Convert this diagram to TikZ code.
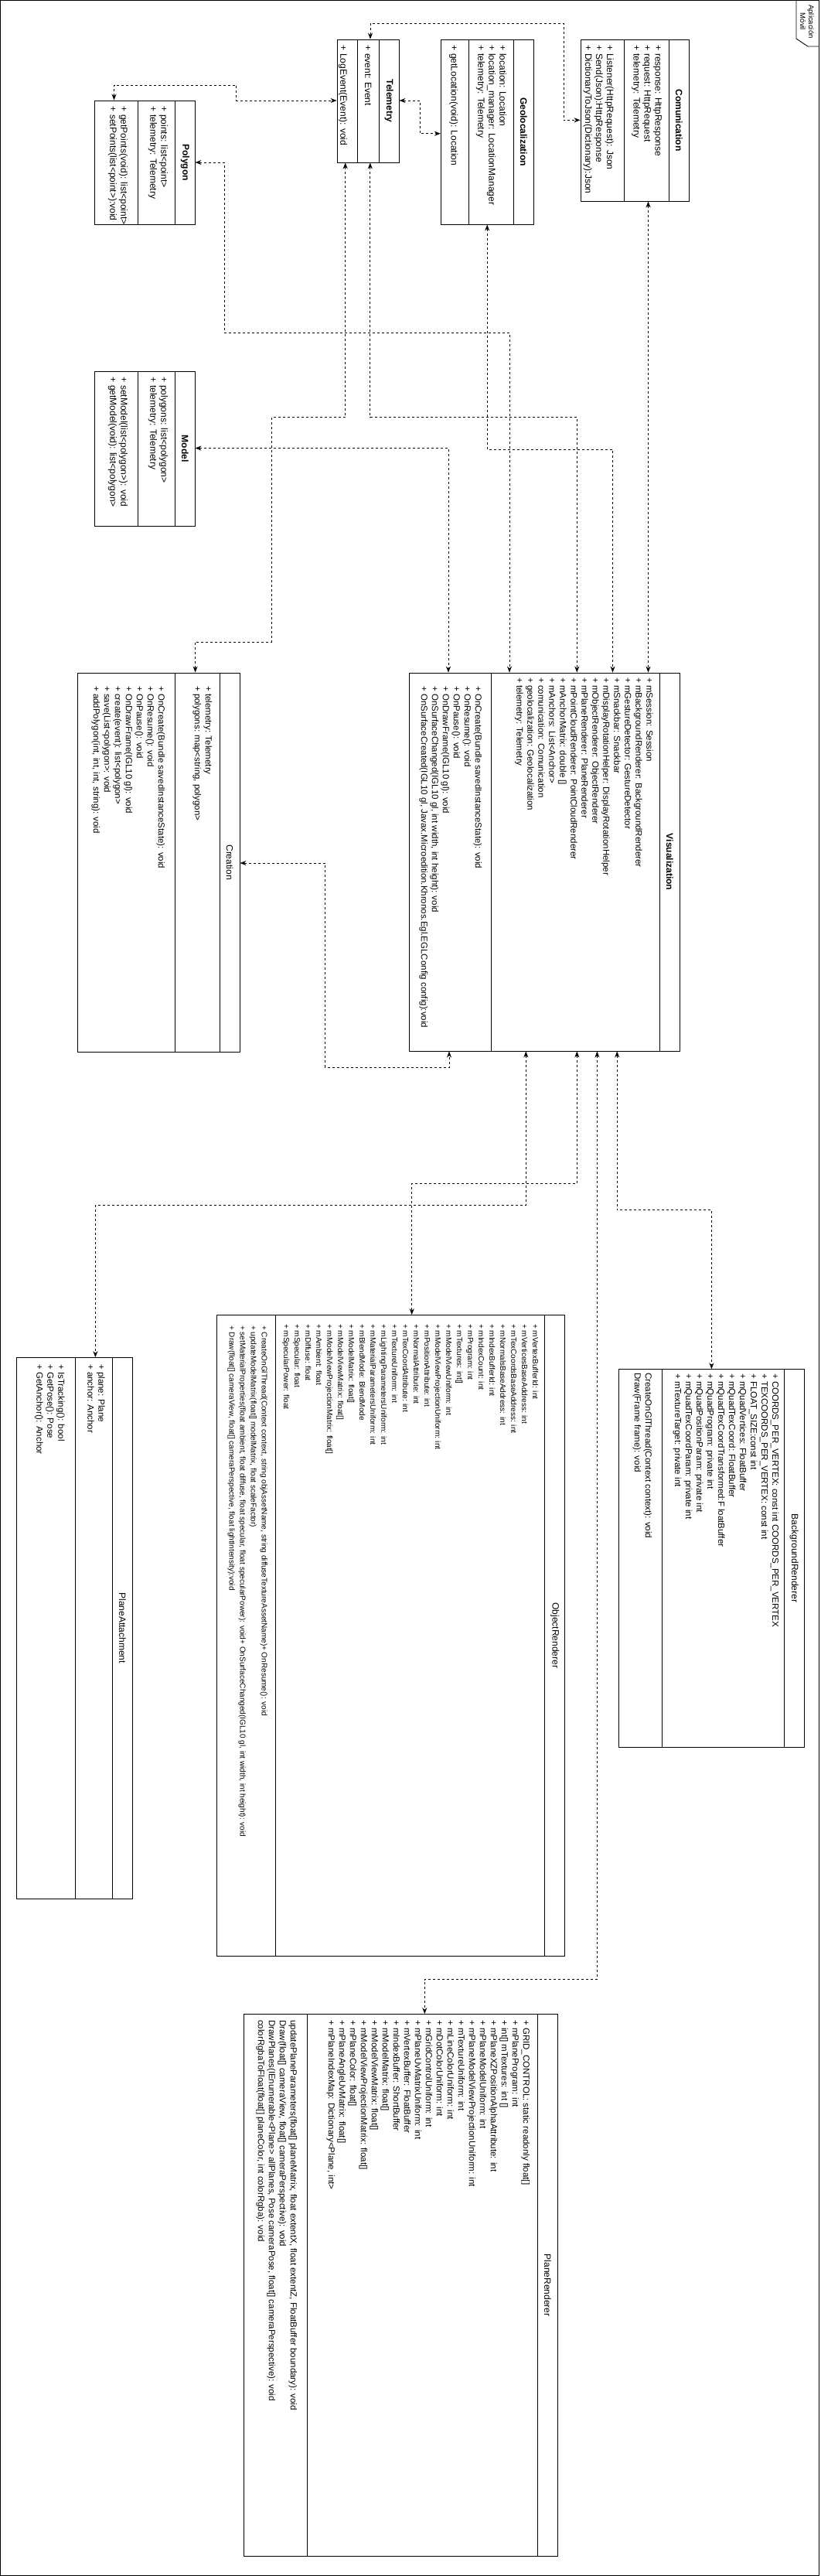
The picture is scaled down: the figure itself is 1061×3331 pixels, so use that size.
\documentclass[tikz,border=0pt]{standalone}
\usepackage{fontspec}
\setmainfont{Liberation Sans}
\usetikzlibrary{arrows.meta,fit}

\begin{document}
\begin{tikzpicture}[x=1pt,y=-1pt,
  classbox/.style={draw, line width=0.9pt, inner sep=0pt},
  divider/.style={line width=0.9pt},
  ctitle/.style={rotate=-90, inner sep=0pt, font=\fontsize{12}{14}\selectfont\bfseries},
  ltitle/.style={rotate=-90, inner sep=0pt, font=\fontsize{12}{14}\selectfont},
  members/.style={rotate=-90, anchor=north west, align=left, inner sep=0pt, font=\fontsize{12}{14}\selectfont},
  lmembers/.style={members, font=\fontsize{11.5}{14}\selectfont},
  smembers/.style={members, font=\fontsize{10}{14}\selectfont},
  link/.style={line width=0.8pt, dash pattern=on 3pt off 3pt,
    {Stealth[length=8pt,width=6pt]}-{Stealth[length=8pt,width=6pt]}}]
\useasboundingbox (0,0) rectangle (1061,3331);
\draw[line width=0.9pt] (0.5,0.5) rectangle (1059.5,3330.5);
\draw[line width=0.9pt] (1030,0.5) -- (1030,50) -- (1045,60) -- (1059.5,60);
\node[rotate=-90, align=center, inner sep=0pt, font=\fontsize{9.5}{11}\selectfont] (appname) at (1044,28) {Aplicación\\Móvil};

\node[classbox, fit={(122,130) (252,290)}] (poly) {};
\draw[divider] (178.3,130) -- (178.3,290);
\draw[divider] (226.7,130) -- (226.7,290);
\node[ctitle] (polyname) at (239.5,210) {Polygon};
\node[members] (polyattr) at (217.3,137.6) {+ points: list<point>\\+ telemetry: Telemetry};
\node[members] (polyops) at (165.3,137.6) {+ getPoints(void): list<point>\\+ setPoints(list<point>):void};

\node[classbox, fit={(122,480) (252,680)}] (model) {};
\draw[divider] (178.3,480) -- (178.3,680);
\draw[divider] (226.7,480) -- (226.7,680);
\node[ctitle] (modelname) at (239.5,580) {Model};
\node[members] (modelattr) at (217.3,487.6) {+ polygons: list<polygon>\\+ telemetry: Telemetry};
\node[members] (modelops) at (165.3,487.6) {+ setModel(list<polygon>): void\\+ getModel(void): list<polygon>};

\node[classbox, fit={(436,51) (516,210)}] (tel) {};
\draw[divider] (462.3,51) -- (462.3,210);
\draw[divider] (490,51) -- (490,210);
\node[ctitle] (telname) at (503.2,130.5) {Telemetry};
\node[members] (telattr) at (480.6,58.6) {+ event: Event};
\node[members] (telops) at (449.3,58.6) {+ LogEvent(Event): void};

\node[classbox, fit={(570.3,51) (690.3,290)}] (geo) {};
\draw[divider] (606.3,51) -- (606.3,290);
\draw[divider] (664.7,51) -- (664.7,290);
\node[ctitle] (geoname) at (677.5,170.5) {Geolocalization};
\node[members] (geoattr) at (655.3,58.6) {+ location: Location\\+ location\_manager: LocationManager\\+ telemetry: Telemetry};
\node[members] (geoops) at (592.6,58.6) {+ getLocation(void): Location};

\node[classbox, fit={(751,51) (891.3,260)}] (com) {};
\draw[divider] (807.3,51) -- (807.3,260);
\draw[divider] (865.3,51) -- (865.3,260);
\node[ctitle] (comname) at (878.3,155.5) {Comunication};
\node[members] (comattr) at (856,58.6) {+ response: HttpResponse\\+ request: HttpRequest\\+ telemetry: Telemetry};
\node[members] (comops) at (794,58.6) {+ Listener(HttpRequest): Json\\+ Send(Json):HttpResponse\\+ DictionaryToJson(Dictionary):Json};

\node[classbox, fit={(100.7,870) (310,1360)}] (creation) {};
\draw[divider] (226.7,870) -- (226.7,1360);
\draw[divider] (284.3,870) -- (284.3,1360);
\node[ltitle] (creationname) at (297.2,1115) {Creation};
\node[lmembers] (creationattr) at (274.3,887) {+ telemetry: Telemetry\\+ polygons: map<string, polygon>};
\node[lmembers] (creationops) at (213.3,887) {+ OnCreate(Bundle savedInstanceState): void\\+ OnResume(): void\\+ OnPause(): void\\+ OnDrawFrame(IGL10 gl): void\\+ create(event): list<polygon>\\+ save(List<polygon>: void\\+ addPolygon(int, int, int, string): void};

\node[classbox, fit={(529.3,870) (879.5,1359)}] (vis) {};
\draw[divider] (635.5,870) -- (635.5,1359);
\draw[divider] (853.5,870) -- (853.5,1359);
\node[ctitle] (visname) at (866.5,1114.5) {Visualization};
\node[lmembers] (visattr) at (845,876) {+ mSession: Session\\+ mBackgroundRenderer: BackgroundRenderer\\+ mGestureDetector: GestureDetector\\+ mSnackbar: Snackbar\\+ mDisplayRotationHelper: DisplayRotationHelper\\+ mObjectRenderer: ObjectRenderer\\+ mPlaneRenderer: PlaneRenderer\\+ mPointCloudRenderer: PointCloudRenderer\\+ mAnchorMatrix: double []\\+ mAnchors: List<Anchor>\\+ comunication: Comunication\\+ geolocalization: Geolocalization\\+ telemetry: Telemetry};
\node[lmembers] (visops) at (623.5,887) {+ OnCreate(Bundle savedInstanceState): void\\+ OnResume(): void\\+ OnPause(): void\\+ OnDrawFrame(IGL10 gl): void\\+ OnSurfaceChanged(IGL10 gl, int width, int height): void\\+ OnSurfaceCreated(IGL10 gl, Javax.Microedition.Khronos.Egl.EGLConfig config):void};

\node[classbox, fit={(280.7,1700.5) (730.8,2529)}] (objr) {};
\draw[divider] (356,1700.5) -- (356,2529);
\draw[divider] (704.6,1700.5) -- (704.6,2529);
\node[ltitle] (objrname) at (717.7,2114.8) {ObjectRenderer};
\node[smembers] (objrattr) at (696.6,1712) {+ mVertexBufferId: int\\+ mVerticesBaseAddress: int\\+ mTexCoordsBaseAddress: int\\+ mNormalsBaseAddress: int\\+ mIndexBufferId: int\\+ mIndexCount: int\\+ mProgram: int\\+ mTextures: int[]\\+ mModelViewUniform: int\\+ mModelViewProjectionUniform: int\\+ mPositionAttribute: int\\+ mNormalAttribute: int\\+ mTexCoordAttribute: int\\+ mTextureUniform: int\\+ mLightingParametersUniform: int\\+ mMaterialParametersUniform: int\\+ mBlendMode: BlendMode\\+ mModelMatrix: float[]\\+ mModelViewMatrix: float[]\\+ mModelViewProjectionMatrix: float[]\\+ mAmbient: float\\+ mDiffuse: float\\+ mSpecular: float\\+ mSpecularPower: float};
\node[smembers] (objrops) at (346,1714) {+ CreateOnGlThread(Context context, string objAssetName, string diffuseTextureAssetName)+ OnResume(): void\\+ updateModelMatrix(float[] modelMatrix, float scaleFactor)\\+ setMaterialProperties(float ambient, float diffuse, float specular, float specularPower): void+ OnSurfaceChanged(IGL10 gl, int width, int height): void\\+ Draw(float[] cameraView, float[] cameraPerspective, float lightIntensity):void};

\node[classbox, fit={(800.4,1770.7) (1040.5,2259)}] (bgr) {};
\draw[divider] (856.5,1770.7) -- (856.5,2259);
\draw[divider] (1014.2,1770.7) -- (1014.2,2259);
\node[ltitle] (bgrname) at (1027.3,2015) {BackgroundRenderer};
\node[lmembers] (bgrattr) at (1007.7,1776) {+ COORDS\_PER\_VERTEX: const int COORDS\_PER\_VERTEX\\+ TEXCOORDS\_PER\_VERTEX: const int\\+ FLOAT\_SIZE:const int\\+ mQuadVertices: FloatBuffer\\+ mQuadTexCoord: FloatBuffer\\+ mQuadTexCoordTransformed:F loatBuffer\\+ mQuadProgram: private int\\+ mQuadPositionParam: private int\\+ mQuadTexCoordParam: private int\\+ mTextureTarget: private int};
\node[lmembers] (bgrops) at (843.5,1775) {CreateOnGlThread(Context context): void\\Draw(Frame frame): void};

\node[classbox, fit={(315,2604.5) (721.3,3305)}] (planer) {};
\draw[divider] (397.3,2604.5) -- (397.3,3305);
\draw[divider] (695.3,2604.5) -- (695.3,3305);
\node[ltitle] (planername) at (708.3,2955) {PlaneRenderer};
\node[lmembers] (planerattr) at (685.3,2612) {+ GRID\_CONTROL: static readonly float[]\\+ mPlaneProgram: int\\+ int[] mTextures: int []\\+ mPlaneXZPositionAlphaAttribute: int\\+ mPlaneModelUniform: int\\+ mPlaneModelViewProjectionUniform: int\\+ mTextureUniform: int\\+ mLineColorUniform: int\\+ mDotColorUniform: int\\+ mGridControlUniform: int\\+ mPlaneUvMatrixUniform: int\\+ mVertexBuffer: FloatBuffer\\+ mIndexBuffer: ShortBuffer\\+ mModelMatrix: float[]\\+ mModelViewMatrix: float[]\\+ mModelViewProjectionMatrix: float[]\\+ mPlaneColor: float[]\\+ mPlaneAngleUvMatrix: float[]\\+ mPlaneIndexMap: Dictionary<Plane, int>};
\node[lmembers] (planerops) at (384.3,2612) {updatePlaneParameters(float[] planeMatrix, float extentX, float extentZ, FloatBuffer boundary): void\\Draw(float[] cameraView, float[] cameraPerspective): void\\DrawPlanes(IEnumerable<Plane> allPlanes, Pose cameraPose, float[] cameraPerspective): void\\colorRgbaToFloat(float[] planeColor, int colorRgba): void};

\node[classbox, fit={(21.8,1755.5) (171,2455)}] (planea) {};
\draw[divider] (97.5,1755.5) -- (97.5,2455);
\draw[divider] (145.5,1755.5) -- (145.5,2455);
\node[ltitle] (planeaname) at (158.3,2105) {PlaneAttachment};
\node[lmembers] (planeaattr) at (136,1764) {+ plane: Plane\\+ anchor: Anchor};
\node[lmembers] (planeaops) at (84,1764) {+ IsTracking(): bool\\+ GetPose(): Pose\\+ GetAnchor(): Anchor};

\draw[link] (poly.north -| 147.5,0) -- (147.5,110) -| (305.8,130) -- (tel.west |- 0,130);
\draw[link] (tel.east |- 0,130) -| (543,172.7) -- (geo.west |- 0,172.7);
\draw[link] (tel.north -| 479,0) |- (729,30) |- (com.west |- 0,155.3);
\draw[link] (com.south -| 838.5,0) -- (vis.north -| 838.5,0);
\draw[link] (poly.east |- 0,210) -| (290,430) -| (vis.north -| 659,0);
\draw[link] (model.east |- 0,579.5) -| (vis.north -| 580,0);
\draw[link] (tel.south -| 446.7,0) |- (351.3,539.6) |- (252.6,830) -- (creation.north -| 252.6,0);
\draw[link] (tel.south -| 478.8,0) |- (746.3,539.6) -- (vis.north -| 746.3,0);
\draw[link] (geo.south -| 630.2,0) |- (792.5,581) -- (vis.north -| 792.5,0);
\draw[link] (creation.east |- 0,1116) -| (420.2,1380) -| (vis.south -| 581,0);
\draw[link] (vis.south -| 680.3,0) |- (123.4,1558) -- (planea.north -| 123.4,0);
\draw[link] (vis.south -| 746.3,0) |- (532.7,1530) -- (objr.north -| 532.7,0);
\draw[link] (vis.south -| 772.4,0) |- (549.3,2559.5) -- (planer.north -| 549.3,0);
\draw[link] (vis.south -| 798.2,0) |- (920.4,1564.6) -- (bgr.north -| 920.4,0);
\end{tikzpicture}
\end{document}
